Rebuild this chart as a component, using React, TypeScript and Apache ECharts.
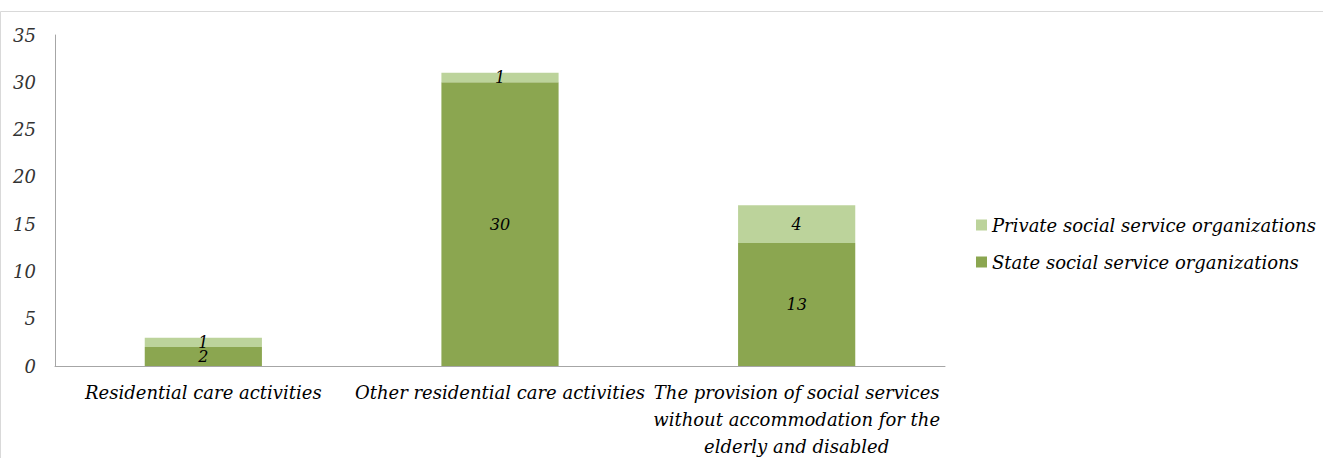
import React, { useEffect, useRef } from "react";
import * as echarts from "echarts";

const categories = [
  "Residential care activities",
  "Other residential care activities",
  "The provision of social services\nwithout accommodation for the\nelderly and disabled",
];
const stateValues = [2, 30, 13];
const privateValues = [1, 1, 4];
const yTicks = { min: 0, max: 35, interval: 5 };

const FONT = "DejaVu Serif";

export default function App() {
  const ref = useRef<HTMLDivElement>(null);
  useEffect(() => {
    document.body.style.margin = "0";
    const chart = echarts.init(ref.current!, null, { renderer: "svg" });
    const labelStyle = {
      show: true,
      position: "inside" as const,
      color: "#000",
      fontFamily: FONT,
      fontStyle: "italic" as const,
      fontSize: 16,
    };
    chart.setOption({
      animation: false,
      backgroundColor: "#fff",
      graphic: [
        {
          type: "rect",
          shape: { x: 0.5, y: 11.5, width: 1340, height: 460 },
          style: { fill: "none", stroke: "#d9d9d9", lineWidth: 1 },
          silent: true,
        },
      ],
      grid: {
        left: 55,
        right: 378,
        top: 35,
        bottom: 92,
        containLabel: false,
        outerBoundsMode: "none",
      },
      legend: {
        orient: "vertical",
        left: 971,
        top: 211,
        itemWidth: 11,
        itemHeight: 11,
        itemGap: 19,
        data: ["Private social service organizations", "State social service organizations"],
        textStyle: { fontFamily: FONT, fontStyle: "italic", fontSize: 18, color: "#000" },
        icon: "rect",
      },
      xAxis: {
        type: "category",
        data: categories,
        axisLine: { lineStyle: { color: "#a6a6a6" } },
        axisTick: { show: false },
        axisLabel: {
          interval: 0,
          margin: 13,
          fontFamily: FONT,
          fontStyle: "italic",
          fontSize: 18,
          lineHeight: 27,
          color: "#000",
          align: "center",
        },
      },
      yAxis: {
        type: "value",
        min: yTicks.min,
        max: yTicks.max,
        interval: yTicks.interval,
        splitLine: { show: false },
        axisLine: { show: true, lineStyle: { color: "#a6a6a6" } },
        axisTick: { show: false },
        axisLabel: {
          margin: 19,
          fontFamily: FONT,
          fontStyle: "italic",
          fontSize: 18,
          color: "#333",
        },
      },
      series: [
        {
          name: "State social service organizations",
          type: "bar",
          stack: "total",
          data: stateValues,
          barWidth: "39.5%",
          itemStyle: { color: "#8ba650" },
          label: labelStyle,
        },
        {
          name: "Private social service organizations",
          type: "bar",
          stack: "total",
          data: privateValues,
          barWidth: "39.5%",
          itemStyle: { color: "#bcd39b" },
          label: labelStyle,
        },
      ],
    });
    return () => chart.dispose();
  }, []);
  return (
    <div
      ref={ref}
      style={{ position: "absolute", left: 0, top: 0, width: 1323, height: 458 }}
    />
  );
}
